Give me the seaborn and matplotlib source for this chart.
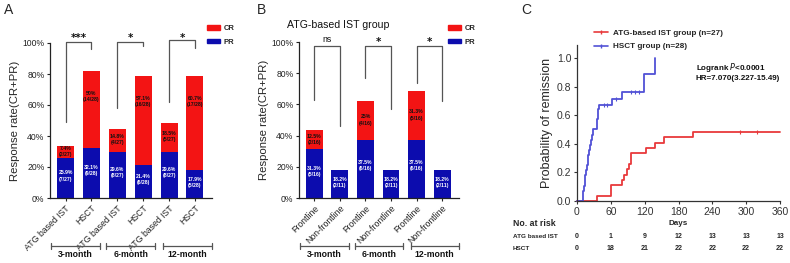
import numpy as np
import pandas as pd
import matplotlib
matplotlib.use("Agg")
import matplotlib.pyplot as plt
import matplotlib.transforms as mtransforms
from matplotlib.patches import Patch
from matplotlib.lines import Line2D
import seaborn as sns

sns.set_theme(style="ticks")
plt.rcParams['font.family'] = ['Liberation Sans', 'DejaVu Sans']

# ---------------- data ----------------
# Panel A
a_keys = ["3m_ATG", "3m_HSCT", "6m_ATG", "6m_HSCT", "12m_ATG", "12m_HSCT"]
a_ticklabels = ["ATG based IST", "HSCT", "ATG based IST", "HSCT", "ATG based IST", "HSCT"]
a_pr = [25.9, 32.1, 29.6, 21.4, 29.6, 17.9]
a_cr = [7.4, 50.0, 14.8, 57.1, 18.5, 60.7]
a_pr_labels = ["25.9%\n(7/27)", "32.1%\n(9/28)", "29.6%\n(8/27)", "21.4%\n(6/28)", "29.6%\n(8/27)", "17.9%\n(5/28)"]
a_cr_labels = ["7.4%\n(2/27)", "50%\n(14/28)", "14.8%\n(4/27)", "57.1%\n(16/28)", "18.5%\n(5/27)", "60.7%\n(17/28)"]
a_sig = ["***", "*", "*"]

# Panel B
b_keys = ["3m_F", "3m_N", "6m_F", "6m_N", "12m_F", "12m_N"]
b_ticklabels = ["Frontline", "Non-frontline", "Frontline", "Non-frontline", "Frontline", "Non-frontline"]
b_pr = [31.3, 18.2, 37.5, 18.2, 37.5, 18.2]
b_cr = [12.5, 0.0, 25.0, 0.0, 31.3, 0.0]
b_pr_labels = ["31.3%\n(5/16)", "18.2%\n(2/11)", "37.5%\n(6/16)", "18.2%\n(2/11)", "37.5%\n(6/16)", "18.2%\n(2/11)"]
b_cr_labels = ["12.5%\n(2/16)", "", "25%\n(4/16)", "", "31.3%\n(5/16)", ""]
b_sig = ["ns", "*", "*"]

groups = ["3-month", "6-month", "12-month"]

# Panel C (cumulative probability of remission, step times in days)
hsct_t = [0, 10, 11, 12, 14, 15, 16, 18, 19, 20, 22, 23, 25, 27, 29, 35, 36, 37, 38, 39, 62, 80, 118, 138]
hsct_p = [0.0, 0.036, 0.071, 0.107, 0.143, 0.179, 0.214, 0.25, 0.286, 0.321, 0.357, 0.393, 0.429,
          0.464, 0.5, 0.536, 0.571, 0.607, 0.643, 0.67, 0.71, 0.765, 0.885, 1.0]
hsct_cens_t = [47, 53, 70, 95, 103, 110]
hsct_cens_p = [0.67, 0.67, 0.71, 0.765, 0.765, 0.765]

atg_t = [0, 35, 60, 79, 84, 89, 92, 95, 122, 138, 154, 205, 360]
atg_p = [0.0, 0.037, 0.111, 0.148, 0.185, 0.222, 0.259, 0.333, 0.37, 0.407, 0.444, 0.485, 0.485]
atg_cens_t = [289, 320]
atg_cens_p = [0.485, 0.485]

risk_days = [0, 60, 120, 180, 240, 300, 360]
risk_atg = [0, 1, 9, 12, 13, 13, 13]
risk_hsct = [0, 18, 21, 22, 22, 22, 22]

RED = "#f31414"
BLUE = "#0c0cae"
KM_RED = "#e8393b"
KM_BLUE = "#5151d6"

fig = plt.figure(figsize=(7.9, 2.63), dpi=100)
W, H = 790.0, 263.0

def fx(px):
    return px / W

def fy(py):
    return 1 - py / H


def bar_panel(ax, keys, ticklabels, pr, cr, pr_labels, cr_labels, cr_pos, brackets, sig, sig_y, title=None):
    df = pd.DataFrame({"key": keys, "total": [p + c for p, c in zip(pr, cr)], "pr": pr})
    sns.barplot(data=df, x="key", y="total", color=RED, saturation=1, width=0.66, ax=ax, linewidth=0)
    sns.barplot(data=df, x="key", y="pr", color=BLUE, saturation=1, width=0.66, ax=ax, linewidth=0)
    ax.set_ylim(0, 100)
    ax.set_xlim(-0.6, 5.66)
    ax.set_yticks([0, 20, 40, 60, 80, 100])
    ax.set_yticklabels([f"{v}%" for v in [0, 20, 40, 60, 80, 100]], fontsize=6.2)
    ax.set_xticks(range(len(keys)))
    ax.set_xticklabels(ticklabels, rotation=45, ha="right", rotation_mode="anchor", fontsize=6.3)
    ax.set_xlabel("")
    ax.set_ylabel("Response rate(CR+PR)", fontsize=8.2, labelpad=2)
    ax.tick_params(axis="both", length=2.5, width=0.8, pad=1.5, colors="#222222")
    for s in ["top", "right"]:
        ax.spines[s].set_visible(False)
    for s in ["left", "bottom"]:
        ax.spines[s].set_linewidth(0.9)
        ax.spines[s].set_color("#222222")
    # bar labels
    for i in range(len(keys)):
        ax.text(i, pr[i] * 0.55, pr_labels[i], ha="center", va="center", fontsize=3.7,
                color="white", fontweight="bold", linespacing=1.3)
        if cr_labels[i]:
            ax.text(i, cr_pos(pr[i], cr[i]), cr_labels[i], ha="center", va="center", fontsize=3.7,
                    color="#111111", fontweight="bold", linespacing=1.3)
    # significance brackets
    for g, (top, yl, yr) in enumerate(brackets):
        x0, x1 = 2 * g, 2 * g + 1
        ax.plot([x0, x0, x1, x1], [yl, top, top, yr], color="#555555", lw=0.9, clip_on=False)
        if sig[g] == "ns":
            ax.text((x0 + x1) / 2, sig_y, sig[g], ha="center", va="center", fontsize=6.3, color="#111111")
        else:
            ax.text((x0 + x1) / 2, sig_y - 1.5, sig[g], ha="center", va="center", fontsize=7.2,
                    fontweight="bold", color="#111111", family="DejaVu Sans")
    # group lines
    tr = mtransforms.blended_transform_factory(ax.transData, ax.transAxes)
    spans = [(-0.58, 1.35), (1.58, 3.45), (3.77, 5.65)]
    for (a, b), name in zip(spans, groups):
        ax.plot([a, b], [-0.31, -0.31], color="#555555", lw=0.9, transform=tr, clip_on=False)
        for xx in (a, b):
            ax.plot([xx, xx], [-0.29, -0.33], color="#555555", lw=0.9, transform=tr, clip_on=False)
        ax.text((a + b) / 2, -0.365, name, transform=tr, ha="center", va="center",
                fontsize=6.3, fontweight="bold", color="#111111")
    if title:
        fig.text(fx(287), fy(25), title, ha="left", va="center", fontsize=7.6, color="#111111")


# ---------- Panel A ----------
axA = fig.add_axes([fx(50), fy(198), fx(212) - fx(50), fy(43) - fy(198)])
bar_panel(axA, a_keys, a_ticklabels, a_pr, a_cr, a_pr_labels, a_cr_labels,
          lambda p, c: p + c - min(16.5, c * 0.45),
          [(100.6, 49, 96), (100.4, 58, 98), (102, 62, 97)], a_sig, 104.5)
axA.legend(handles=[Patch(color=RED, label="CR"), Patch(color=BLUE, label="PR")],
           loc="upper left", bbox_to_anchor=(fx(204), fy(22)), bbox_transform=fig.transFigure,
           frameon=False, prop={"size": 5.5, "weight": "bold"}, handlelength=1.7,
           handleheight=0.55, labelspacing=0.85, handletextpad=0.5, borderaxespad=0)

# ---------- Panel B ----------
axB = fig.add_axes([fx(299), fy(198), fx(459) - fx(299), fy(42) - fy(198)])
bar_panel(axB, b_keys, b_ticklabels, b_pr, b_cr, b_pr_labels, b_cr_labels,
          lambda p, c: p + c / 2,
          [(97.6, 63, 46), (97.6, 77, 57), (97.6, 74, 62)], b_sig, 101.5,
          title="ATG-based IST group")
axB.legend(handles=[Patch(color=RED, label="CR"), Patch(color=BLUE, label="PR")],
           loc="upper left", bbox_to_anchor=(fx(445), fy(22)), bbox_transform=fig.transFigure,
           frameon=False, prop={"size": 5.5, "weight": "bold"}, handlelength=1.7,
           handleheight=0.55, labelspacing=0.85, handletextpad=0.5, borderaxespad=0)

# ---------- Panel C ----------
axC = fig.add_axes([fx(577), fy(201), fx(780) - fx(577), fy(45) - fy(201)])
df_h = pd.DataFrame({"t": hsct_t, "p": hsct_p})
df_a = pd.DataFrame({"t": atg_t, "p": atg_p})
sns.lineplot(data=df_a, x="t", y="p", ax=axC, color=KM_RED, lw=1.3, drawstyle="steps-post",
             estimator=None, clip_on=False)
sns.lineplot(data=df_h, x="t", y="p", ax=axC, color=KM_BLUE, lw=1.3, drawstyle="steps-post",
             estimator=None, clip_on=False)
axC.plot(atg_cens_t, atg_cens_p, ls="none", marker="|", ms=3, mew=0.8, color=KM_RED)
axC.plot(hsct_cens_t, hsct_cens_p, ls="none", marker="|", ms=3, mew=0.8, color=KM_BLUE)
axC.set_xlim(0, 360)
axC.set_ylim(0, 1.09)
axC.set_xticks(risk_days)
axC.set_yticks([0, 0.2, 0.4, 0.6, 0.8, 1.0])
axC.set_yticklabels(["0.0", "0.2", "0.4", "0.6", "0.8", "1.0"])
axC.tick_params(axis="both", labelsize=7.5, length=2.5, width=0.8, pad=1.5, colors="#333333")
for s in ["top", "right"]:
    axC.spines[s].set_visible(False)
for s in ["left", "bottom"]:
    axC.spines[s].set_linewidth(0.9)
    axC.spines[s].set_color("#333333")
axC.set_xlabel("Days", fontsize=5.8, fontweight="bold", labelpad=2.5)
axC.set_ylabel("Probability of remission", fontsize=9, labelpad=3)
axC.legend(handles=[Line2D([], [], color=KM_RED, lw=1.2, marker="|", ms=3, label="ATG-based IST group (n=27)"),
                    Line2D([], [], color=KM_BLUE, lw=1.2, marker="|", ms=3, label="HSCT group (n=28)")],
           loc="upper left", bbox_to_anchor=(fx(591), fy(26)), bbox_transform=fig.transFigure,
           frameon=False, prop={"size": 5.9, "weight": "semibold"}, handlelength=1.7,
           handletextpad=0.6, labelspacing=0.7, borderaxespad=0)
axC.text(0.586, 0.857, "Logrank $\\it{P}$<0.0001", transform=axC.transAxes, fontsize=5.8,
         ha="left", va="center", color="#111111", fontweight="semibold")
axC.text(0.586, 0.787, "HR=7.070(3.227-15.49)", transform=axC.transAxes, fontsize=5.8,
         ha="left", va="center", color="#111111", fontweight="semibold")

trC = mtransforms.blended_transform_factory(axC.transData, fig.transFigure)
fig.text(fx(513), fy(223), "No. at risk", fontsize=6.3, fontweight="bold", ha="left", va="center")
fig.text(fx(513), fy(237), "ATG based IST", fontsize=4.6, fontweight="bold", ha="left", va="center")
fig.text(fx(513), fy(248), "HSCT", fontsize=4.6, fontweight="bold", ha="left", va="center")
for d, n1, n2 in zip(risk_days, risk_atg, risk_hsct):
    axC.text(d, fy(237), str(n1), transform=trC, fontsize=5, fontweight="bold", ha="center", va="center")
    axC.text(d, fy(248), str(n2), transform=trC, fontsize=5, fontweight="bold", ha="center", va="center")

# panel letters
fig.text(fx(4), fy(10), "A", fontsize=10, ha="left", va="center")
fig.text(fx(257), fy(10), "B", fontsize=10, ha="left", va="center")
fig.text(fx(521), fy(10), "C", fontsize=10, ha="left", va="center")

fig.savefig("out.png", dpi=100)
